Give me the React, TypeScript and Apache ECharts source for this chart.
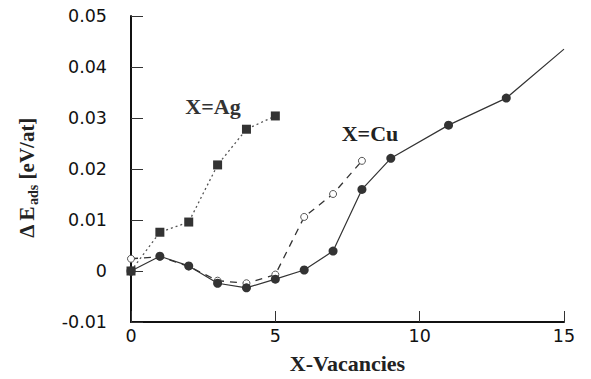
import React, { useEffect, useRef } from "react";
import * as echarts from "echarts";

const xTicks = [0, 5, 10, 15];
const yTicks = [-0.01, 0, 0.01, 0.02, 0.03, 0.04, 0.05];

const agX = [0, 1, 2, 3, 4, 5];
const agY = [0.0, 0.0076, 0.0096, 0.0208, 0.0278, 0.0304];

const cuOpenX = [0, 1, 2, 3, 4, 5, 6, 7, 8];
const cuOpenY = [0.0024, 0.0028, 0.0009, -0.0019, -0.0024, -0.0007, 0.0106, 0.0151, 0.0216];

const cuX = [0, 1, 2, 3, 4, 5, 6, 7, 8, 9, 11, 13, 15];
const cuY = [0.0, 0.0029, 0.001, -0.0024, -0.0033, -0.0016, 0.0002, 0.0039, 0.016, 0.0221, 0.0286, 0.0339, 0.0435];
const cuNoMarker = [15];

const labelAg = "X=Ag";
const labelCu = "X=Cu";
const xName = "X-Vacancies";

export default function App() {
  const ref = useRef<HTMLDivElement>(null);
  useEffect(() => {
    if (!ref.current) return;
    const chart = echarts.init(ref.current, null, { renderer: "svg" });
    const serif = "'Liberation Serif', 'Times New Roman', serif";
    const sans = "'DejaVu Sans', 'Liberation Sans', Arial, sans-serif";
    chart.setOption({
      animation: false,
      backgroundColor: "#fff",
      grid: { left: 131, right: 27, top: 16, bottom: 56, containLabel: false },
      xAxis: {
        type: "value",
        min: xTicks[0],
        max: xTicks[xTicks.length - 1],
        interval: 5,
        name: xName,
        nameLocation: "middle",
        nameGap: 30,
        nameTextStyle: { fontFamily: serif, fontWeight: "bold", fontSize: 22, color: "#222" },
        axisLine: { show: true, onZero: false, lineStyle: { color: "#111", width: 2 } },
        axisTick: { show: true, inside: true, length: 11, lineStyle: { color: "#333", width: 1 } },
        axisLabel: { margin: 5, fontFamily: sans, fontSize: 17.5, color: "#111" },
        splitLine: { show: false },
      },
      yAxis: {
        type: "value",
        min: yTicks[0],
        max: yTicks[yTicks.length - 1],
        interval: 0.01,
        axisLine: { show: true, onZero: false, lineStyle: { color: "#111", width: 2 } },
        axisTick: { show: true, inside: true, length: 12, lineStyle: { color: "#333", width: 1 } },
        axisLabel: { margin: 24, fontFamily: sans, fontSize: 17.5, color: "#111" },
        splitLine: { show: false },
      },
      graphic: [
        {
          type: "text",
          x: 27,
          y: 178,
          rotation: Math.PI / 2,
          style: {
            text: "{m|Δ E}{s|ads}{m| [eV/at]}",
            align: "center",
            verticalAlign: "middle",
            fill: "#222",
            rich: {
              m: { fontFamily: serif, fontWeight: "bold", fontSize: 21, fill: "#222" },
              s: { fontFamily: serif, fontWeight: "bold", fontSize: 14, fill: "#222", padding: [12, 0, 0, 1] },
            },
          },
        },
        {
          type: "text",
          x: 213,
          y: 106,
          style: {
            text: labelAg,
            align: "center",
            verticalAlign: "middle",
            fontFamily: serif,
            fontWeight: "bold",
            fontSize: 22,
            fill: "#333",
          },
        },
        {
          type: "text",
          x: 370,
          y: 133,
          style: {
            text: labelCu,
            align: "center",
            verticalAlign: "middle",
            fontFamily: serif,
            fontWeight: "bold",
            fontSize: 22,
            fill: "#222",
          },
        },
      ],
      series: [
        {
          type: "line",
          data: cuOpenX.map((x, i) => [x, cuOpenY[i]]),
          symbol: "circle",
          symbolSize: 7,
          itemStyle: { color: "#fff", borderColor: "#555", borderWidth: 1 },
          lineStyle: { color: "#333", width: 1.3, type: [7, 6] },
          z: 2,
        },
        {
          type: "line",
          data: agX.map((x, i) => [x, agY[i]]),
          symbol: "rect",
          symbolSize: 9,
          itemStyle: { color: "#333" },
          lineStyle: { color: "#555", width: 1.3, type: [2, 3] },
          z: 3,
        },
        {
          type: "line",
          data: cuX.map((x, i) =>
            cuNoMarker.includes(x)
              ? { value: [x, cuY[i]], symbol: "none" }
              : { value: [x, cuY[i]] }
          ),
          symbol: "circle",
          symbolSize: 9,
          itemStyle: { color: "#333" },
          lineStyle: { color: "#333", width: 1.2, type: "solid" },
          z: 4,
        },
      ],
    });
    return () => chart.dispose();
  }, []);
  return (
    <div
      ref={ref}
      style={{ position: "fixed", left: 0, top: 0, width: 591, height: 379, background: "#fff" }}
    />
  );
}
